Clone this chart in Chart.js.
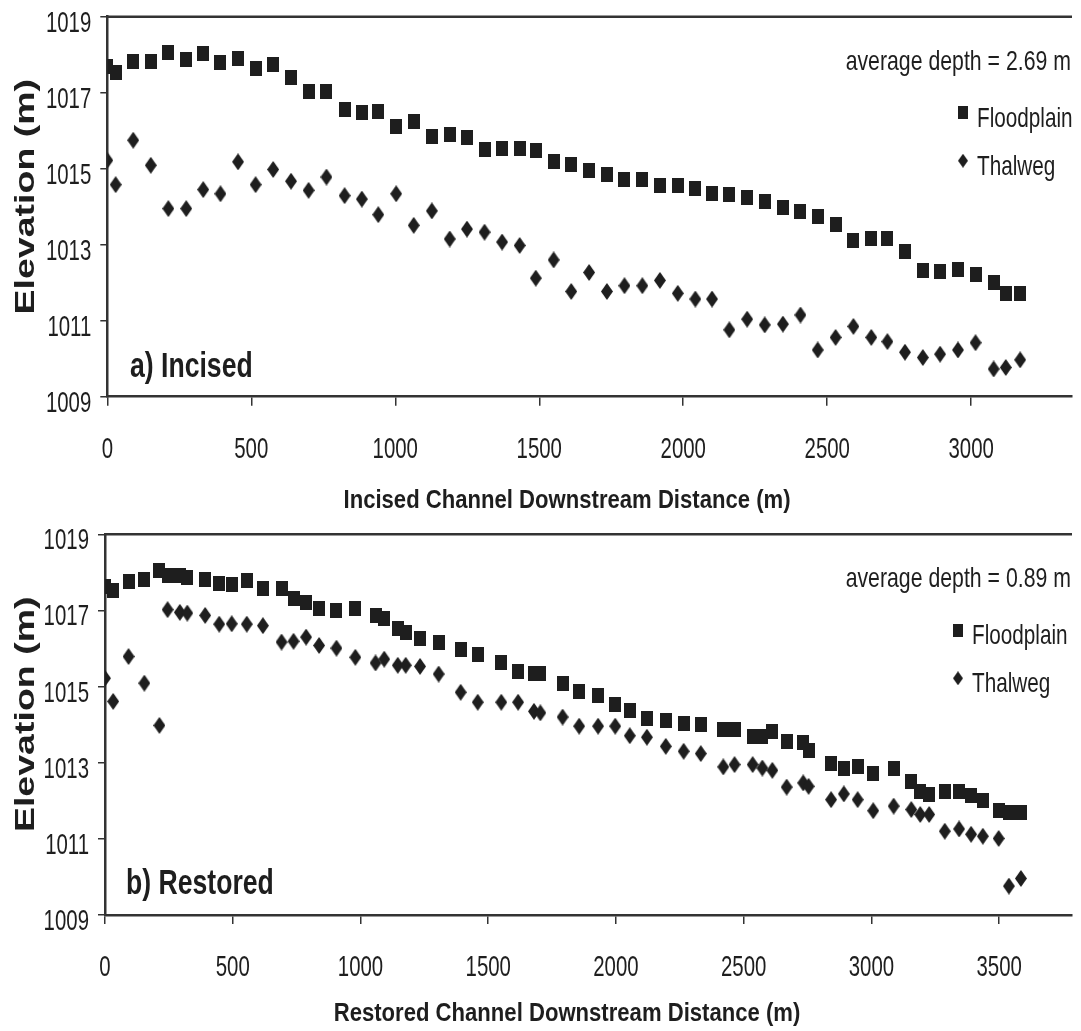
<!DOCTYPE html>
<html>
<head>
<meta charset="utf-8">
<title>Channel elevation profiles</title>
<script src="https://cdn.jsdelivr.net/npm/chart.js@4.4.1/dist/chart.umd.min.js"></script>
<style>
    html, body { margin: 0; padding: 0; background: #fff; overflow: hidden; }
    #page { position: relative; width: 1081px; height: 1031px; }
    canvas { position: absolute; left: 0; }
    #incised { top: 0; }
    #restored { top: 520px; }
</style>
</head>
<body>
<div id="page">
    <canvas id="incised" width="1081" height="520"></canvas>
    <canvas id="restored" width="1081" height="511"></canvas>
</div>
<script>
// Survey stations (m downstream) and elevations (m) for each reach
const incisedDistance = [0, 29, 90, 151, 212, 274, 333, 393, 454, 515, 576, 638, 699, 761, 824, 884, 941, 1003, 1064, 1127,
    1189, 1249, 1310, 1371, 1432, 1488, 1550, 1611, 1673, 1735, 1796, 1858, 1919, 1981, 2042, 2100, 2160, 2222, 2283, 2346,
    2407, 2467, 2529, 2591, 2653, 2709, 2770, 2832, 2892, 2954, 3015, 3078, 3120, 3170];
const incisedFloodplain = [1017.70, 1017.54, 1017.81, 1017.81, 1018.05, 1017.88, 1018.02, 1017.79, 1017.89, 1017.65,
    1017.73, 1017.39, 1017.04, 1017.04, 1016.56, 1016.47, 1016.50, 1016.12, 1016.25, 1015.85,
    1015.90, 1015.83, 1015.50, 1015.53, 1015.53, 1015.49, 1015.20, 1015.11, 1014.96, 1014.86,
    1014.71, 1014.71, 1014.56, 1014.56, 1014.47, 1014.36, 1014.32, 1014.23, 1014.14, 1013.98,
    1013.88, 1013.73, 1013.54, 1013.11, 1013.17, 1013.17, 1012.82, 1012.32, 1012.30, 1012.34,
    1012.21, 1012.01, 1011.72, 1011.72];
const incisedThalweg = [1015.22, 1014.58, 1015.75, 1015.09, 1013.95, 1013.95, 1014.45, 1014.34, 1015.18, 1014.58,
    1014.98, 1014.67, 1014.43, 1014.78, 1014.29, 1014.20, 1013.79, 1014.34, 1013.51, 1013.89,
    1013.15, 1013.41, 1013.33, 1013.07, 1012.98, 1012.12, 1012.60, 1011.77, 1012.27, 1011.77,
    1011.92, 1011.92, 1012.06, 1011.72, 1011.57, 1011.57, 1010.76, 1011.04, 1010.89, 1010.91,
    1011.15, 1010.23, 1010.56, 1010.85, 1010.56, 1010.45, 1010.17, 1010.03, 1010.12, 1010.23,
    1010.42, 1009.73, 1009.77, 1009.97];

const restoredDistance = [0, 32, 92, 154, 213, 245, 293, 322, 392, 447, 496, 555, 618, 691, 738, 787, 838, 906, 980, 1059,
    1093, 1146, 1177, 1233, 1306, 1392, 1459, 1551, 1617, 1679, 1704, 1791, 1856, 1930, 1997, 2054, 2121, 2195, 2265,
    2332, 2420, 2464, 2535, 2573, 2612, 2668, 2733, 2754, 2842, 2892, 2946, 3007, 3087, 3156, 3191, 3226, 3287, 3343,
    3390, 3436, 3498, 3538, 3585];
const restoredFloodplain = [1017.63, 1017.52, 1017.76, 1017.80, 1018.06, 1017.93, 1017.93, 1017.87, 1017.80, 1017.72,
    1017.67, 1017.78, 1017.57, 1017.57, 1017.32, 1017.22, 1017.04, 1017.00, 1017.04, 1016.88,
    1016.78, 1016.52, 1016.43, 1016.27, 1016.17, 1015.98, 1015.84, 1015.64, 1015.40, 1015.34,
    1015.34, 1015.08, 1014.87, 1014.77, 1014.54, 1014.37, 1014.15, 1014.10, 1014.04, 1014.00,
    1013.87, 1013.87, 1013.69, 1013.69, 1013.81, 1013.56, 1013.52, 1013.33, 1012.98, 1012.85,
    1012.91, 1012.71, 1012.85, 1012.50, 1012.25, 1012.16, 1012.25, 1012.25, 1012.15, 1012.01,
    1011.74, 1011.68, 1011.68];
const restoredThalweg = [1015.22, 1014.61, 1015.79, 1015.09, 1013.98, 1017.02, 1016.95, 1016.93, 1016.87, 1016.64,
    1016.65, 1016.64, 1016.60, 1016.17, 1016.19, 1016.30, 1016.08, 1016.01, 1015.77, 1015.62,
    1015.72, 1015.56, 1015.56, 1015.53, 1015.33, 1014.85, 1014.59, 1014.59, 1014.59, 1014.35,
    1014.31, 1014.20, 1013.96, 1013.96, 1013.96, 1013.71, 1013.67, 1013.43, 1013.30, 1013.24,
    1012.89, 1012.95, 1012.95, 1012.86, 1012.80, 1012.36, 1012.47, 1012.38, 1012.03, 1012.18,
    1012.03, 1011.74, 1011.86, 1011.77, 1011.64, 1011.64, 1011.20, 1011.26, 1011.12, 1011.07,
    1011.01, 1009.76, 1009.96];

const seriesNames = ['Floodplain', 'Thalweg'];
const elevationTicks = [1009, 1011, 1013, 1015, 1017, 1019];
const incisedDistanceTicks = [0, 500, 1000, 1500, 2000, 2500, 3000];
const restoredDistanceTicks = [0, 500, 1000, 1500, 2000, 2500, 3000, 3500];

const INK = '#1e1e1e';
const AXIS = '#333333';
const FONT = '"Liberation Sans", Arial, sans-serif';

/**
 * Solid marker bitmap used as a Chart.js pointStyle
 */
function makeMarker(shape, w, h) {
    const c = document.createElement('canvas');
    c.width = w;
    c.height = h;
    const g = c.getContext('2d');
    g.fillStyle = INK;
    if (shape === 'square') {
        g.fillRect(0, 0, w, h);
    } else {
        g.beginPath();
        g.moveTo(w / 2, 0);
        g.lineTo(w, h / 2);
        g.lineTo(w / 2, h);
        g.lineTo(0, h / 2);
        g.closePath();
        g.fill();
    }
    return c;
}

const squareMark = makeMarker('square', 12, 15);
const diamondMark = makeMarker('diamond', 12, 17);
const squareKey = makeMarker('square', 10, 13);
const diamondKey = makeMarker('diamond', 10, 14);

/**
 * Text with independent horizontal squeeze (sx) and optional rotation
 */
function drawText(ctx, str, x, y, o) {
    ctx.save();
    ctx.font = (o.bold ? 'bold ' : '') + o.size + 'px ' + FONT;
    ctx.fillStyle = INK;
    ctx.textBaseline = 'alphabetic';
    ctx.textAlign = o.align || 'left';
    ctx.translate(x, y);
    if (o.rotate) ctx.rotate(o.rotate);
    ctx.scale(o.sx || 1, 1);
    ctx.fillText(str, 0, 0);
    ctx.restore();
}

function toPoints(xs, ys) {
    return xs.map((x, i) => ({ x: x, y: ys[i] }));
}

function fixedTicks(values) {
    return scale => { scale.ticks = values.map(v => ({ value: v })); };
}

/**
 * Frame line, tick labels, titles, note and key drawn over the chart
 */
const decorPlugin = {
    id: 'decor',
    afterDraw(chart) {
        const ctx = chart.ctx;
        const area = chart.chartArea;
        const d = chart.options.plugins.decor;

        ctx.save();
        ctx.strokeStyle = AXIS;
        ctx.lineWidth = 2.5;
        ctx.beginPath();
        ctx.moveTo(area.left - 1, area.top);
        ctx.lineTo(area.right, area.top);
        ctx.stroke();
        ctx.restore();

        const xs = chart.scales.x;
        const ys = chart.scales.y;
        xs.ticks.forEach(t => {
            drawText(ctx, String(t.value), xs.getPixelForValue(t.value), area.bottom + 61,
                { size: 30, sx: 0.68, align: 'center' });
        });
        ys.ticks.forEach(t => {
            drawText(ctx, String(t.value), area.left - 16, ys.getPixelForValue(t.value) + 15,
                { size: 30, sx: 0.68, align: 'right' });
        });

        drawText(ctx, 'Elevation (m)', 34, area.top + 180,
            { size: 28, bold: true, sx: 1.34, align: 'center', rotate: -Math.PI / 2 });
        drawText(ctx, d.xTitle, 567, d.xTitleY, { size: 26, bold: true, sx: 0.85, align: 'center' });
        drawText(ctx, d.panel, d.panelX, area.top + 360, { size: 35, bold: true, sx: 0.76 });
        drawText(ctx, d.note, 1071, area.top + 53, { size: 28, sx: 0.76, align: 'right' });

        const keys = [squareKey, diamondKey];
        seriesNames.forEach((name, i) => {
            const cy = area.top + 96 + i * 48;
            const img = keys[i];
            ctx.drawImage(img, d.keyX - img.width / 2, cy - img.height / 2);
            drawText(ctx, name, d.keyX + 14, cy + 14, { size: 28, sx: 0.74 });
        });
    }
};

function makeProfileChart(canvasId, dist, flood, thal, cfg) {
    const canvas = document.getElementById(canvasId);
    return new Chart(canvas.getContext('2d'), {
        type: 'scatter',
        data: {
            datasets: [
                { label: seriesNames[0], data: toPoints(dist, flood), pointStyle: squareMark, pointRadius: 8, backgroundColor: INK },
                { label: seriesNames[1], data: toPoints(dist, thal), pointStyle: diamondMark, pointRadius: 8, backgroundColor: INK }
            ]
        },
        options: {
            responsive: false,
            animation: false,
            events: [],
            layout: { padding: { top: cfg.top, right: 0, bottom: 0, left: 0 } },
            plugins: {
                legend: { display: false },
                tooltip: { enabled: false },
                decor: cfg.decor
            },
            scales: {
                x: {
                    type: 'linear',
                    min: 0,
                    max: cfg.xMax,
                    bounds: 'data',
                    ticks: { display: false },
                    afterBuildTicks: fixedTicks(cfg.xTicks),
                    grid: { drawOnChartArea: false, drawTicks: true, tickLength: 9, color: AXIS, lineWidth: 1.5 },
                    border: { display: true, color: AXIS, width: 2.5 },
                    afterFit: s => { s.height = canvas.height - cfg.bottom; }
                },
                y: {
                    type: 'linear',
                    min: elevationTicks[0],
                    max: elevationTicks[elevationTicks.length - 1],
                    bounds: 'data',
                    ticks: { display: false },
                    afterBuildTicks: fixedTicks(elevationTicks),
                    grid: { drawOnChartArea: false, drawTicks: true, tickLength: 7, color: AXIS, lineWidth: 1.5 },
                    border: { display: true, color: AXIS, width: 2.5 },
                    afterFit: s => { s.width = cfg.left; }
                }
            }
        },
        plugins: [decorPlugin]
    });
}

makeProfileChart('incised', incisedDistance, incisedFloodplain, incisedThalweg, {
    top: 16.7, bottom: 396.7, left: 107.3, xMax: 3350, xTicks: incisedDistanceTicks,
    decor: {
        xTitle: 'Incised Channel Downstream Distance (m)', xTitleY: 507.5,
        panel: 'a) Incised', panelX: 130,
        note: 'average depth = 2.69 m', keyX: 963
    }
});

makeProfileChart('restored', restoredDistance, restoredFloodplain, restoredThalweg, {
    top: 14.3, bottom: 395, left: 105, xMax: 3785, xTicks: restoredDistanceTicks,
    decor: {
        xTitle: 'Restored Channel Downstream Distance (m)', xTitleY: 501,
        panel: 'b) Restored', panelX: 126,
        note: 'average depth = 0.89 m', keyX: 958
    }
});
</script>
</body>
</html>
